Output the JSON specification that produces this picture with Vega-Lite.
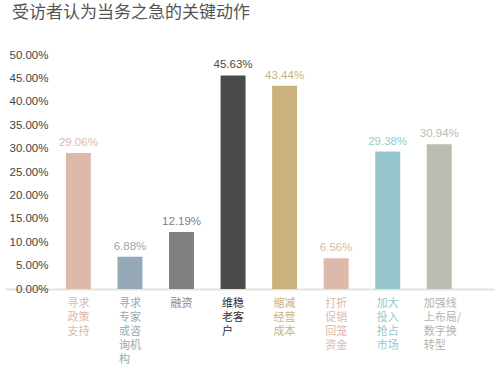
{
  "$schema": "https://vega.github.io/schema/vega-lite/v6.json",
  "width": 489,
  "height": 234,
  "autosize": {"type": "none"},
  "padding": {"left": 5, "top": 55, "right": 6, "bottom": 82},
  "background": "white",
  "title": {
    "text": "受访者认为当务之急的关键动作",
    "anchor": "start",
    "frame": "group",
    "dx": 7,
    "offset": 27,
    "font": "Noto Sans CJK SC",
    "fontSize": 17,
    "fontWeight": "normal",
    "color": "#555555"
  },
  "config": {"view": {"stroke": null}},
  "data": {
    "values": [
      {"name": "寻求|政策|支持", "value": 0.2906},
      {"name": "寻求|专家|或咨|询机|构", "value": 0.0688},
      {"name": "融资", "value": 0.1219},
      {"name": "维稳|老客|户", "value": 0.4563},
      {"name": "缩减|经营|成本", "value": 0.4344},
      {"name": "打折|促销|回笼|资金", "value": 0.0656},
      {"name": "加大|投入|抢占|市场", "value": 0.2938},
      {"name": "加强线|上布局/|数字换|转型", "value": 0.3094}
    ]
  },
  "encoding": {
    "x": {
      "field": "name",
      "type": "nominal",
      "sort": null,
      "scale": {"paddingInner": 0.5155, "paddingOuter": 1.0925, "align": 0.5905, "round": false},
      "axis": {
        "title": null,
        "labelAngle": 0,
        "labelExpr": "split(datum.label, '|')",
        "labelAlign": "left",
        "labelBaseline": "top",
        "labelFont": "Noto Sans CJK SC",
        "labelFontSize": 11,
        "labelLineHeight": 14,
        "labelPadding": 8,
        "labelOffset": {"condition": {"test": "datum.value === '加强线|上布局/|数字换|转型'", "value": -15.5}, "value": -11},
        "labelColor": {"condition": [
          {"test": "datum.value === '寻求|政策|支持'", "value": "#dcb9ab"},
          {"test": "datum.value === '寻求|专家|或咨|询机|构'", "value": "#95a9b6"},
          {"test": "datum.value === '融资'", "value": "#858585"},
          {"test": "datum.value === '维稳|老客|户'", "value": "#333333"},
          {"test": "datum.value === '缩减|经营|成本'", "value": "#c9b37b"},
          {"test": "datum.value === '打折|促销|回笼|资金'", "value": "#dcb9ab"},
          {"test": "datum.value === '加大|投入|抢占|市场'", "value": "#97c7cd"}
        ], "value": "#b3b4aa"},
        "ticks": false,
        "tickSize": 0,
        "domainColor": "#e3e3df",
        "domainWidth": 2,
        "grid": false
      }
    },
    "y": {
      "field": "value",
      "type": "quantitative",
      "scale": {"domain": [0, 0.5], "nice": false},
      "axis": {
        "title": null,
        "format": ".2%",
        "values": [0, 0.05, 0.1, 0.15, 0.2, 0.25, 0.3, 0.35, 0.4, 0.45, 0.5],
        "domain": false,
        "ticks": false,
        "tickSize": 0,
        "grid": false,
        "offset": -45,
        "labelPadding": 2,
        "labelFont": "Liberation Sans",
        "labelFontSize": 11.5,
        "labelColor": "#444444"
      }
    },
    "color": {
      "field": "name",
      "type": "nominal",
      "legend": null,
      "scale": {
        "domain": ["寻求|政策|支持", "寻求|专家|或咨|询机|构", "融资", "维稳|老客|户", "缩减|经营|成本", "打折|促销|回笼|资金", "加大|投入|抢占|市场", "加强线|上布局/|数字换|转型"],
        "range": ["#dcb9ab", "#95a9b6", "#808080", "#4a4a48", "#c9b37b", "#dcb9ab", "#97c7cd", "#bcbdb2"]
      }
    }
  },
  "layer": [
    {"mark": {"type": "bar"}},
    {
      "mark": {"type": "text", "baseline": "bottom", "dy": -5, "font": "Liberation Sans", "fontSize": 11.5},
      "encoding": {"text": {"field": "value", "type": "quantitative", "format": ".2%"}}
    }
  ]
}
